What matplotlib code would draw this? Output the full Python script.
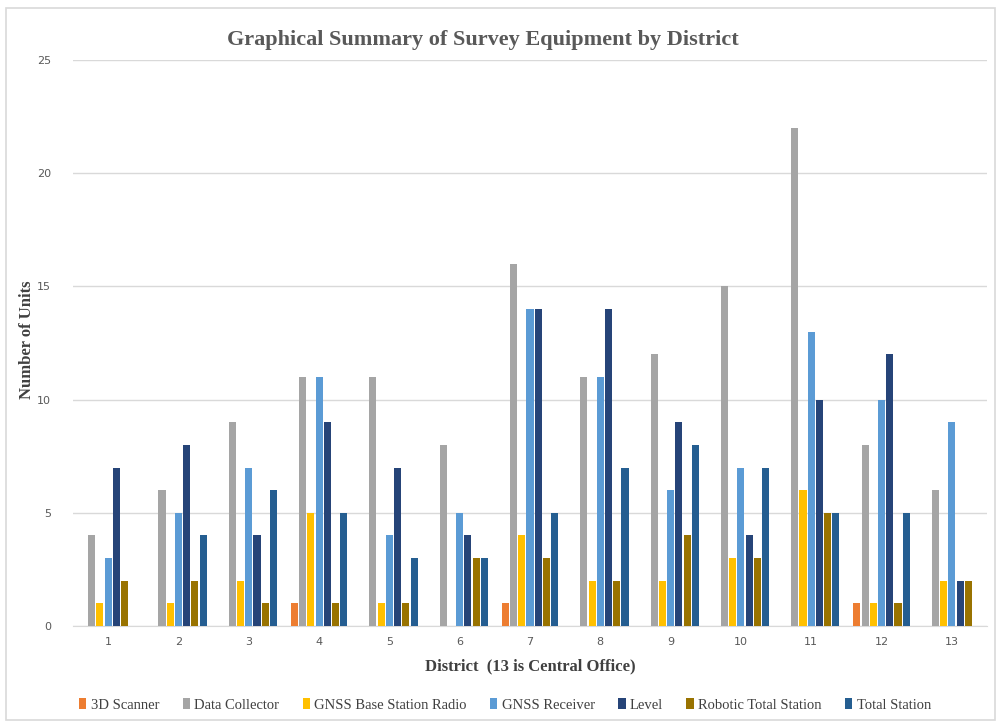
import numpy as np
import matplotlib.pyplot as plt

# survey equipment counts per district
districts = [str(d) for d in range(1, 14)]
series_names = ['3D Scanner', 'Data Collector', 'GNSS Base Station Radio', 'GNSS Receiver',
                'Level', 'Robotic Total Station', 'Total Station']

scanner_3d = [0, 0, 0, 1, 0, 0, 1, 0, 0, 0, 0, 1, 0]
data_collector = [4, 6, 9, 11, 11, 8, 16, 11, 12, 15, 22, 8, 6]
gnss_base_radio = [1, 1, 2, 5, 1, 0, 4, 2, 2, 3, 6, 1, 2]
gnss_receiver = [3, 5, 7, 11, 4, 5, 14, 11, 6, 7, 13, 10, 9]
level = [7, 8, 4, 9, 7, 4, 14, 14, 9, 4, 10, 12, 2]
robotic_total_station = [2, 2, 1, 1, 1, 3, 3, 2, 4, 3, 5, 1, 2]
total_station = [0, 4, 6, 5, 3, 3, 5, 7, 8, 7, 5, 5, 0]

series = [scanner_3d, data_collector, gnss_base_radio, gnss_receiver,
          level, robotic_total_station, total_station]
colors = ['#ED7D31', '#A5A5A5', '#FFC000', '#5B9BD5', '#264478', '#997300', '#255E91']

serif = ['Liberation Serif', 'DejaVu Serif']

fig = plt.figure(figsize=(10.01, 7.25), dpi=100)
ax = fig.add_axes([73 / 1001, 99 / 725, 914 / 1001, 566 / 725])

# border around the whole chart area
fig.patches.append(plt.Rectangle((6 / 1001, 5 / 725), 989 / 1001, 712 / 725,
                                 transform=fig.transFigure, fill=False,
                                 edgecolor='#D9D9D9', linewidth=1.2))

x = np.arange(len(districts))
slot = 0.117
width = 0.1
for i, (vals, name, c) in enumerate(zip(series, series_names, colors)):
    ax.bar(x + (i - 3) * slot, vals, width, color=c, label=name, zorder=3)

ax.set_xlim(-0.5, len(districts) - 0.5)
ax.set_ylim(0, 25)
ax.set_yticks(range(0, 26, 5))
ax.set_xticks(x)
ax.set_xticklabels(districts)
ax.grid(axis='y', color='#D9D9D9', linewidth=1, zorder=0)
for s in ['top', 'right', 'left']:
    ax.spines[s].set_visible(False)
ax.spines['bottom'].set_color('#D9D9D9')
ax.tick_params(axis='both', length=0, labelsize=8, labelcolor='#595959')
ax.tick_params(axis='y', pad=16)
ax.tick_params(axis='x', pad=8)

fig.text(483 / 1001, 1 - 40 / 725, 'Graphical Summary of Survey Equipment by District',
         ha='center', va='center', fontsize=16, fontweight='bold', color='#595959', family=serif)
# y label placed directly so it is not pushed off the figure
fig.text(27 / 1001, 1 - 340 / 725, 'Number of Units', rotation=90, ha='center', va='center',
         fontsize=12, fontweight='bold', color='#404040', family=serif)
ax.set_xlabel('District  (13 is Central Office)', fontsize=12, fontweight='bold', color='#404040',
              family=serif, labelpad=8)

leg = fig.legend(loc='center', bbox_to_anchor=(505 / 1001, 1 - 705 / 725), ncol=7, frameon=False,
                 prop={'family': serif, 'size': 10.5}, handlelength=0.5, handleheight=0.7,
                 handletextpad=0.3, columnspacing=1.6)
for t in leg.get_texts():
    t.set_color('#404040')

plt.savefig('out.png', dpi=100)
